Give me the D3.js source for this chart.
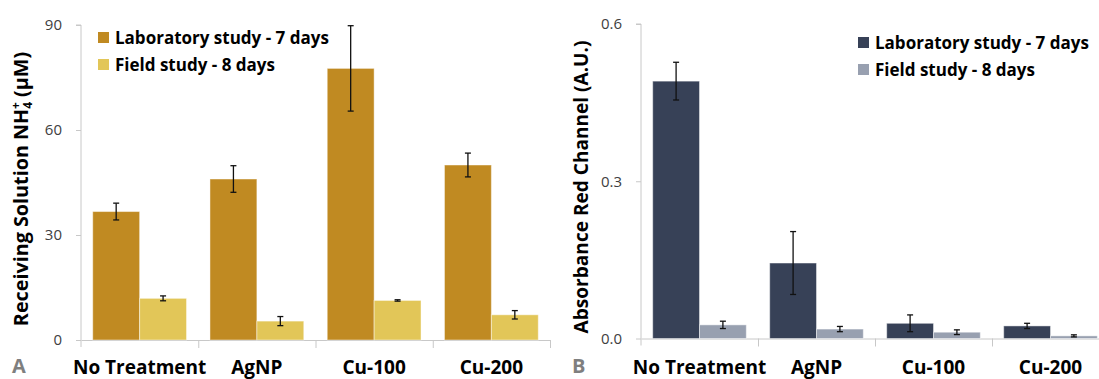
<!DOCTYPE html>
<html>
<head>
<meta charset="utf-8">
<script src="https://cdn.jsdelivr.net/npm/d3@7"></script>
<style>
  body { margin: 0; background: #fff; }
  svg { font-family: "Open Sans", sans-serif; display: block; }
</style>
</head>
<body>
<svg width="1099" height="379"></svg>
<script>
// categories and series, shared by both panels
const categories = ['No Treatment', 'AgNP', 'Cu-100', 'Cu-200']
const seriesNames = ['Laboratory study - 7 days', 'Field study - 8 days']

// panel A: receiving solution NH4+ (uM)
const nh4Lab = [36.7, 46.0, 77.6, 50.0]
const nh4LabErr = [2.4, 3.8, 12.2, 3.4]
const nh4Field = [11.9, 5.4, 11.3, 7.2]
const nh4FieldErr = [0.7, 1.3, 0.2, 1.2]
const nh4Ticks = [0, 30, 60, 90]

// panel B: absorbance red channel (A.U.)
const absLab = [0.491, 0.144, 0.029, 0.024]
const absLabErr = [0.036, 0.060, 0.016, 0.005]
const absField = [0.026, 0.018, 0.012, 0.005]
const absFieldErr = [0.007, 0.005, 0.0045, 0.002]
const absTicks = [0, 0.3, 0.6]

const svg = d3.select('svg')

//draws one panel with its own scales and axes
function drawPanel(opt){
    const g = svg.append('g')

    const x = d3.scaleBand()
        .domain(categories)
        .range([opt.left, opt.left + opt.step * categories.length])
        .padding(0)
    const xInner = d3.scaleBand()
        .domain(seriesNames)
        .range([x.bandwidth() * 0.1, x.bandwidth() * 0.9])
    const y = d3.scaleLinear()
        .domain([0, opt.max])
        .range([opt.bottom, opt.top])

    //rows: one per bar
    const rows = []
    categories.forEach((c, i) => {
        rows.push({cat: c, s: seriesNames[0], v: opt.lab[i], e: opt.labErr[i], color: opt.colors[0]})
        rows.push({cat: c, s: seriesNames[1], v: opt.field[i], e: opt.fieldErr[i], color: opt.colors[1]})
    })

    //y axis
    const yAxis = g.append('g')
        .attr('transform', `translate(${opt.left},0)`)
        .call(d3.axisLeft(y).tickValues(opt.ticks).tickFormat(opt.fmt).tickSize(5).tickPadding(14))
    yAxis.select('.domain').attr('stroke', '#c8c8c8').attr('d', `M-5,${opt.top}H0V${opt.bottom + 7}`)
    yAxis.selectAll('.tick line').attr('stroke', '#c8c8c8')
    yAxis.selectAll('.tick text')
        .attr('fill', '#404040')
        .style('font-size', '15px')
        .style('font-family', '"Open Sans", sans-serif')

    //x axis line with ticks on category borders
    const xb = d3.scaleLinear().domain([0, categories.length]).range(x.range())
    const xAxis = g.append('g')
        .attr('transform', `translate(0,${opt.bottom})`)
        .call(d3.axisBottom(xb).tickValues(d3.range(1, categories.length + 1)).tickFormat('').tickSize(8).tickSizeOuter(0))
    xAxis.select('.domain').attr('stroke', '#c8c8c8')
    xAxis.selectAll('.tick line').attr('stroke', '#c8c8c8')

    //category labels
    const xLab = g.append('g')
        .attr('transform', `translate(0,${opt.bottom})`)
        .call(d3.axisBottom(x).tickSize(0))
    xLab.select('.domain').remove()
    xLab.selectAll('.tick text')
        .attr('y', 374 - opt.bottom)
        .attr('dy', 0)
        .attr('fill', '#000')
        .style('font-size', '19px')
        .style('font-weight', 'bold')
        .style('font-family', '"Open Sans", sans-serif')

    //bars
    g.selectAll('rect.bar')
        .data(rows)
        .enter().append('rect')
            .attr('class', 'bar')
            .attr('x', d => x(d.cat) + xInner(d.s))
            .attr('width', xInner.bandwidth())
            .attr('y', d => y(d.v))
            .attr('height', d => y(0) - y(d.v))
            .attr('fill', d => d.color)
            .attr('stroke', 'rgba(255,255,255,0.45)')
            .attr('stroke-width', 1)

    //error bars
    const err = g.selectAll('g.err')
        .data(rows)
        .enter().append('g')
            .attr('class', 'err')
            .attr('transform', d => `translate(${x(d.cat) + xInner(d.s) + xInner.bandwidth() / 2},0)`)
    err.append('line')
        .attr('y1', d => y(d.v + d.e)).attr('y2', d => y(d.v - d.e))
        .attr('stroke', '#111').attr('stroke-width', 1.3)
    err.append('line')
        .attr('x1', -3).attr('x2', 3)
        .attr('y1', d => y(d.v + d.e)).attr('y2', d => y(d.v + d.e))
        .attr('stroke', '#111').attr('stroke-width', 1.3)
    err.append('line')
        .attr('x1', -3).attr('x2', 3)
        .attr('y1', d => y(d.v - d.e)).attr('y2', d => y(d.v - d.e))
        .attr('stroke', '#111').attr('stroke-width', 1.3)

    //legend
    const legend = g.selectAll('.legend')
        .data(seriesNames)
        .enter().append('g')
            .attr('class', 'legend')
            .attr('transform', (d, i) => `translate(${opt.legX},${opt.legY + i * 27})`)
    legend.append('rect')
        .attr('x', 0).attr('y', -6).attr('width', 11).attr('height', 11)
        .attr('fill', (d, i) => opt.colors[i])
    legend.append('text')
        .attr('x', 17).attr('y', 0).attr('dy', '0.35em')
        .style('font-size', '17px').style('font-weight', 'bold')
        .attr('fill', '#000')
        .text(d => d)

    //y title, size fitted to the span it has in the original
    const title = g.append('text')
        .attr('transform', `translate(${opt.titleX},${opt.titleY}) rotate(-90)`)
        .attr('text-anchor', 'middle')
        .style('font-size', '18px').style('font-weight', 'bold')
        .attr('fill', '#000')
    opt.title(title)
    const bb = title.node().getBBox()
    const fs = Math.max(16, Math.min(20, 18 * opt.titleLen / bb.width))
    title.style('font-size', fs + 'px')
    const bb2 = title.node().getBBox()
    title.attr('x', -(bb2.x + bb2.width / 2))

    //panel letter
    g.append('text')
        .attr('x', opt.letterX).attr('y', 373)
        .style('font-size', '20px').style('font-weight', 'bold')
        .attr('fill', '#7f7f7f')
        .text(opt.letter)
}

drawPanel({
    left: 81, step: 117.25, top: 25, bottom: 340, max: 90,
    ticks: nh4Ticks, fmt: d3.format('d'),
    lab: nh4Lab, labErr: nh4LabErr, field: nh4Field, fieldErr: nh4FieldErr,
    colors: ['#c08a22', '#e2c658'],
    legX: 98, legY: 38,
    titleX: 28, titleY: 189, titleLen: 275,
    title: t => {
        t.append('tspan').text('Receiving Solution NH')
        t.append('tspan').text('4').style('font-size', '12px').attr('dy', 4)
        t.append('tspan').text('+').style('font-size', '12px').attr('dx', -7).attr('dy', -12)
        t.append('tspan').text(' (μM)').attr('dy', 8)
    },
    letterX: 12, letter: 'A'
})

drawPanel({
    left: 641, step: 117, top: 24, bottom: 338.5, max: 0.6,
    ticks: absTicks, fmt: d3.format('.1f'),
    lab: absLab, labErr: absLabErr, field: absField, fieldErr: absFieldErr,
    colors: ['#374157', '#98a0b0'],
    legX: 858, legY: 43,
    titleX: 588, titleY: 187, titleLen: 293,
    title: t => t.text('Absorbance Red Channel (A.U.)'),
    letterX: 572, letter: 'B'
})
</script>
</body>
</html>
